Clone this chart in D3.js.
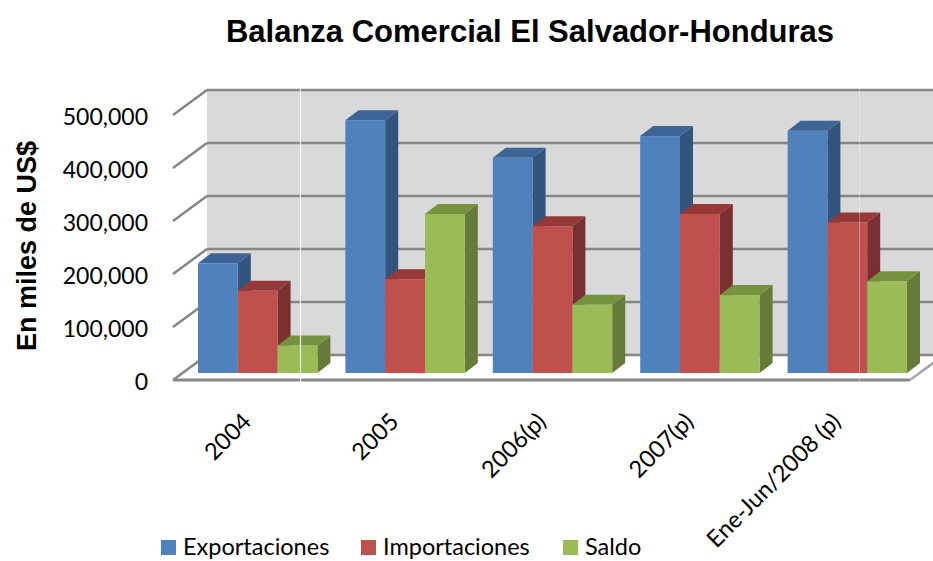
<!DOCTYPE html>
<html>
<head>
<meta charset="utf-8">
<script src="https://cdn.jsdelivr.net/npm/d3@7/dist/d3.min.js"></script>
<style>
  body { margin: 0; background: #fff; }
  svg { display: block; }
</style>
</head>
<body>
<div id="chart"></div>
<script>
const width = 933, height = 561;

// data (miles de US$)
const categories = ["2004", "2005", "2006(p)", "2007(p)", "Ene-Jun/2008 (p)"];
const seriesNames = ["Exportaciones", "Importaciones", "Saldo"];
const exportaciones = [207000, 477000, 406000, 447000, 457000];
const importaciones = [155000, 177000, 277000, 300000, 284000];
const saldo = [52000, 300000, 129000, 147000, 173000];
const yTicks = [0, 100000, 200000, 300000, 400000, 500000];

const frontColors = ["#4f81bd", "#c0504d", "#9bbb59"];
const topColors = ["#3d6494", "#943937", "#77923f"];
const sideColors = ["#33547f", "#7a3030", "#667b38"];

const seriesValues = [exportaciones, importaciones, saldo];

const svg = d3.select("#chart")
    .append("svg")
    .attr("width", width)
    .attr("height", height);

// 3d box: back wall plane and front edge
const wallLeft = 207, wallRight = 944;
const depthX = 34, depthY = -25;

const yBack = d3.scaleLinear().domain([0, 500000]).range([355, 90]);
const yFront = d3.scaleLinear().domain([0, 500000]).range([355 - depthY, 90 - depthY]);
// bars stand a bit behind the front edge
const yBar = d3.scaleLinear().domain([0, 500000]).range([373, 108]);

const x0 = d3.scaleBand().domain(categories).range([184, 921]);
const x1 = d3.scaleBand().domain(seriesNames)
    .range([x0.bandwidth() * 0.095, x0.bandwidth() * 0.905]);
const barDx = 13, barDy = -10;

const gridColor = "#868686";

// back wall
svg.append("rect")
    .attr("x", wallLeft)
    .attr("y", yBack(500000))
    .attr("width", wallRight - wallLeft)
    .attr("height", yBack(0) - yBack(500000))
    .attr("fill", "#d9d9d9");

// floor
svg.append("polygon")
    .attr("points", [
        [wallLeft - depthX, yFront(0)], [wallRight - depthX, yFront(0)],
        [wallRight, yBack(0)], [wallLeft, yBack(0)]
    ].map(p => p.join(",")).join(" "))
    .attr("fill", "#ffffff");

// gridlines on the back wall + diagonals on the side wall
svg.selectAll(".grid")
    .data(yTicks)
    .enter()
    .append("line")
    .attr("x1", wallLeft)
    .attr("x2", wallRight)
    .attr("y1", d => yBack(d))
    .attr("y2", d => yBack(d))
    .attr("stroke", gridColor)
    .attr("stroke-width", 2.5);

svg.selectAll(".side")
    .data(yTicks)
    .enter()
    .append("line")
    .attr("x1", wallLeft - depthX)
    .attr("y1", d => yFront(d))
    .attr("x2", wallLeft)
    .attr("y2", d => yBack(d))
    .attr("stroke", gridColor)
    .attr("stroke-width", 2.5);

// floor front and right edges
svg.append("line")
    .attr("x1", wallLeft - depthX).attr("y1", yFront(0))
    .attr("x2", wallRight - depthX).attr("y2", yFront(0))
    .attr("stroke", gridColor)
    .attr("stroke-width", 3);
svg.append("line")
    .attr("x1", wallRight - depthX).attr("y1", yFront(0))
    .attr("x2", wallRight).attr("y2", yBack(0))
    .attr("stroke", "#a6a6a6")
    .attr("stroke-width", 2.5);

// bars
const bars = svg.append("g");
categories.forEach((cat, i) => {
    seriesNames.forEach((name, s) => {
        const v = seriesValues[s][i];
        const x = x0(cat) + x1(name), w = x1.bandwidth();
        const yt = yBar(v), yb = yBar(0);
        // side
        bars.append("polygon")
            .attr("points", [[x + w, yt], [x + w + barDx, yt + barDy],
                [x + w + barDx, yb + barDy], [x + w, yb]].map(p => p.join(",")).join(" "))
            .attr("fill", sideColors[s]);
        // top
        bars.append("polygon")
            .attr("points", [[x, yt], [x + barDx, yt + barDy],
                [x + w + barDx, yt + barDy], [x + w, yt]].map(p => p.join(",")).join(" "))
            .attr("fill", topColors[s]);
        // front
        bars.append("rect")
            .attr("x", x)
            .attr("y", yt)
            .attr("width", w)
            .attr("height", yb - yt)
            .attr("fill", frontColors[s]);
    });
});

// white slide guide lines over the plot
svg.append("line")
    .attr("x1", 300.5).attr("x2", 300.5).attr("y1", 88).attr("y2", 386)
    .attr("stroke", "#ffffff").attr("stroke-width", 1.2).attr("opacity", 0.85);
svg.append("line")
    .attr("x1", 859.5).attr("x2", 859.5).attr("y1", 88).attr("y2", 386)
    .attr("stroke", "#ffffff").attr("stroke-width", 1).attr("opacity", 0.35);

// y axis labels
const yAxis = d3.axisLeft(yFront)
    .tickValues(yTicks)
    .tickFormat(d3.format(","))
    .tickSize(0)
    .tickPadding(0);
const yAxisG = svg.append("g")
    .attr("transform", "translate(148,2)")
    .call(yAxis);
yAxisG.select(".domain").remove();
yAxisG.selectAll("text")
    .attr("font-family", "Lato, 'Open Sans', sans-serif")
    .attr("font-size", 23)
    .attr("fill", "#000");

// category labels
svg.selectAll(".cat")
    .data(categories)
    .enter()
    .append("text")
    .attr("transform", d => `translate(${x0(d) + x0.bandwidth() / 2 - 5},423) rotate(-45)`)
    .attr("text-anchor", "end")
    .attr("font-family", "Lato, 'Open Sans', sans-serif")
    .attr("font-size", 23.5)
    .attr("fill", "#000")
    .text(d => d);

// title
svg.append("text")
    .attr("x", 530)
    .attr("y", 42)
    .attr("text-anchor", "middle")
    .attr("font-family", "'Liberation Sans', Arial, sans-serif")
    .attr("font-weight", "bold")
    .attr("font-size", 31)
    .text("Balanza Comercial El Salvador-Honduras");

// y title
svg.append("text")
    .attr("transform", "translate(36,246) rotate(-90)")
    .attr("text-anchor", "middle")
    .attr("font-family", "'Liberation Sans', Arial, sans-serif")
    .attr("font-weight", "bold")
    .attr("font-size", 27)
    .text("En miles de US$");

// legend
const legend = svg.selectAll(".legend")
    .data(seriesNames)
    .enter()
    .append("g")
    .attr("transform", (d, i) => `translate(${[161, 361, 563][i]},540)`);
legend.append("rect")
    .attr("width", 15)
    .attr("height", 15)
    .attr("fill", (d, i) => frontColors[i]);
legend.append("text")
    .attr("x", 22)
    .attr("y", 15)
    .attr("font-family", "Lato, 'Open Sans', sans-serif")
    .attr("font-size", 23.5)
    .attr("fill", "#000")
    .text(d => d);
</script>
</body>
</html>
